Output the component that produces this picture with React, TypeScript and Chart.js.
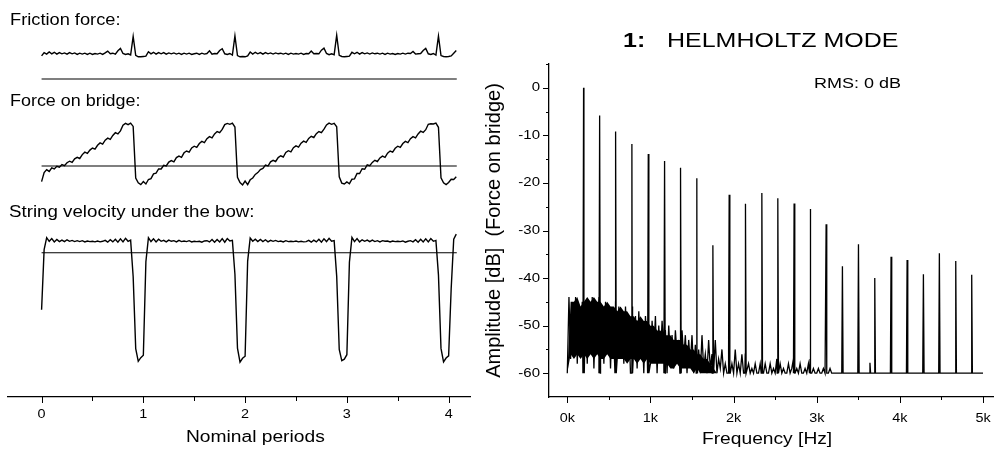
import React, { useEffect, useRef } from 'react';
import { Chart, registerables } from 'chart.js';

Chart.register(...registerables);

const FONT = '"Liberation Sans", Arial, Helvetica, sans-serif';

// ---------------- Left panel: waveforms over nominal periods ----------------
const periodStep = 0.025; // sampling interval of the waveforms (in periods)
const periodRange = [-0.33, 4.21];
const zeroLineSpan = [0, 4.08];
const periodTicksMajor = [0, 1, 2, 3, 4];
const periodTicksMinor = [0.5, 1.5, 2.5, 3.5];
const periodTickLabels = ['0', '1', '2', '3', '4'];

const frictionForce = [
  0.77, 0.88, 0.83, 0.90, 0.84, 0.89, 0.83, 0.88, 0.84, 0.87, 0.83, 0.88, 0.84, 0.87, 0.82, 0.86, 0.83, 0.86, 0.82, 0.86,
  0.82, 0.85, 0.83, 0.86, 0.82, 0.87, 0.93, 0.84, 0.86, 0.83, 0.94, 1.02, 0.85, 0.82, 0.84, 0.80, 1.42, 0.79, 0.74, 0.74,
  0.75, 0.76, 0.91, 0.84, 0.89, 0.83, 0.88, 0.84, 0.88, 0.83, 0.87, 0.84, 0.87, 0.83, 0.86, 0.82, 0.86, 0.83, 0.86, 0.82,
  0.84, 0.86, 0.82, 0.86, 0.83, 0.85, 0.94, 0.83, 0.85, 0.84, 0.95, 1.01, 0.84, 0.82, 0.85, 0.80, 1.44, 0.78, 0.74, 0.75,
  0.74, 0.77, 0.90, 0.83, 0.89, 0.84, 0.88, 0.83, 0.88, 0.84, 0.87, 0.83, 0.87, 0.84, 0.86, 0.83, 0.86, 0.82, 0.86, 0.83,
  0.85, 0.83, 0.86, 0.82, 0.85, 0.84, 0.93, 0.84, 0.85, 0.84, 0.96, 1.03, 0.85, 0.81, 0.84, 0.81, 1.46, 0.79, 0.75, 0.74,
  0.75, 0.76, 0.89, 0.84, 0.89, 0.83, 0.88, 0.84, 0.87, 0.83, 0.87, 0.84, 0.86, 0.83, 0.86, 0.82, 0.86, 0.83, 0.85, 0.82,
  0.85, 0.83, 0.86, 0.83, 0.86, 0.85, 0.92, 0.83, 0.84, 0.85, 0.95, 1.02, 0.84, 0.82, 0.85, 0.80, 1.43, 0.78, 0.75, 0.74,
  0.75, 0.77, 0.86, 0.95,
];

const bridgeForce = [
  -0.52, -0.22, -0.12, -0.18, -0.06, -0.10, -0.01, -0.04, 0.05, 0.01, 0.11, 0.16, 0.12, 0.24, 0.29, 0.25, 0.38, 0.46, 0.42, 0.53,
  0.60, 0.56, 0.69, 0.77, 0.73, 0.86, 0.93, 0.89, 1.02, 1.11, 1.07, 1.17, 1.36, 1.42, 1.38, 1.43, 1.32, -0.40, -0.56, -0.62,
  -0.52, -0.60, -0.45, -0.42, -0.26, -0.24, -0.10, -0.10, 0.02, 0.00, 0.13, 0.18, 0.14, 0.28, 0.33, 0.29, 0.44, 0.50, 0.46, 0.60,
  0.66, 0.62, 0.75, 0.82, 0.78, 0.91, 0.98, 0.94, 1.07, 1.15, 1.11, 1.22, 1.38, 1.42, 1.39, 1.43, 1.30, -0.38, -0.55, -0.63,
  -0.50, -0.62, -0.46, -0.40, -0.28, -0.22, -0.12, -0.08, 0.03, 0.00, 0.14, 0.19, 0.15, 0.28, 0.34, 0.30, 0.45, 0.51, 0.47, 0.61,
  0.67, 0.63, 0.76, 0.83, 0.79, 0.92, 0.99, 0.95, 1.08, 1.15, 1.11, 1.23, 1.37, 1.43, 1.39, 1.42, 1.31, -0.36, -0.57, -0.60,
  -0.53, -0.59, -0.44, -0.43, -0.25, -0.25, -0.09, -0.11, 0.04, 0.01, 0.12, 0.19, 0.15, 0.27, 0.33, 0.29, 0.43, 0.50, 0.46, 0.59,
  0.66, 0.62, 0.75, 0.82, 0.78, 0.91, 0.98, 0.94, 1.07, 1.16, 1.12, 1.21, 1.39, 1.41, 1.40, 1.43, 1.29, -0.39, -0.56, -0.62,
  -0.55, -0.44, -0.45, -0.36,
];

const stringVelocity = [
  -1.90, 0.10, 0.50, 0.38, 0.47, 0.36, 0.44, 0.37, 0.42, 0.37, 0.43, 0.38, 0.41, 0.37, 0.40, 0.37, 0.40, 0.36, 0.39, 0.37,
  0.38, 0.36, 0.39, 0.36, 0.38, 0.41, 0.35, 0.43, 0.36, 0.45, 0.35, 0.46, 0.36, 0.48, 0.38, 0.42, -0.80, -3.20, -3.62, -3.50,
  -3.42, -0.30, 0.50, 0.37, 0.46, 0.36, 0.45, 0.38, 0.41, 0.36, 0.42, 0.38, 0.40, 0.36, 0.41, 0.37, 0.39, 0.37, 0.40, 0.36,
  0.38, 0.37, 0.38, 0.35, 0.39, 0.40, 0.36, 0.44, 0.35, 0.44, 0.36, 0.47, 0.35, 0.47, 0.39, 0.41, -0.72, -3.18, -3.65, -3.52,
  -3.45, -0.28, 0.49, 0.38, 0.45, 0.37, 0.44, 0.37, 0.43, 0.36, 0.41, 0.38, 0.41, 0.37, 0.39, 0.36, 0.40, 0.37, 0.38, 0.37,
  0.39, 0.36, 0.38, 0.36, 0.37, 0.41, 0.35, 0.42, 0.36, 0.45, 0.35, 0.46, 0.37, 0.48, 0.38, 0.40, -0.78, -3.22, -3.60, -3.55,
  -3.40, -0.32, 0.51, 0.37, 0.47, 0.36, 0.43, 0.38, 0.42, 0.37, 0.42, 0.37, 0.40, 0.36, 0.40, 0.38, 0.39, 0.36, 0.39, 0.37,
  0.38, 0.37, 0.39, 0.35, 0.38, 0.40, 0.36, 0.43, 0.35, 0.45, 0.36, 0.46, 0.36, 0.47, 0.38, 0.41, -0.74, -3.19, -3.64, -3.51,
  -3.44, -1.20, 0.45, 0.62,
];

// ---------------- Right panel: spectrum ----------------
const freqRange = [-220, 5120];
const dbRange = [-65, 5];
const floorDb = -60;
const spectrumEndHz = 5000;
const noiseStepHz = 20; // bin spacing of the noise floor samples
const noiseDb = [
  -60, -44, -57, -46, -55, -44, -58, -47, -53, -45, -50, -46, -58, -47, -55, -44, -59, -48, -54, -44,
  -56, -47, -58, -45, -55, -46, -59, -48, -53, -45, -57, -46, -56, -48, -58, -46, -55, -49, -60, -46,
  -54, -48, -59, -47, -56, -49, -60, -48, -55, -47, -58, -49, -56, -48, -60, -50, -57, -49, -55, -51,
  -60, -50, -57, -52, -59, -51, -56, -53, -60, -51, -57, -52, -60, -53, -58, -52, -60, -54, -57, -55,
  -60, -52, -59, -56, -60, -53, -59, -56, -60, -53, -60, -57, -59, -55, -60, -58, -60, -55, -60, -58,
  -60, -55, -60, -58, -60, -56, -60, -56, -60, -58, -60, -59, -60, -58, -60, -60, -58, -57, -60, -58,
  -60, -60, -58, -60, -59, -60, -57, -60, -58, -60, -59, -60, -60, -58, -60, -59, -57, -60, -59, -60,
  -58, -60, -60, -59, -60, -58, -57, -60, -59, -60, -60, -59, -60, -60, -59, -60, -58, -60, -59, -60,
  -60, -60, -60,
];
// dense core of the noise floor (filled band), sampled every 40 Hz
const bandStepHz = 40;
const noiseBandUpperDb = [
  -60, -45, -45, -44, -46, -45, -44, -45, -44, -45, -45, -46, -45, -46, -46, -47, -46, -47, -47, -48,
  -48, -49, -48, -49, -49, -50, -50, -51, -51, -52, -52, -52, -53, -53, -53, -54, -54, -55, -55, -56,
  -56, -57, -57, -58, -59, -60,
];
const noiseBandLowerDb = [
  -60, -56, -57, -56, -57, -56, -57, -56, -57, -56, -57, -57, -56, -57, -57, -57, -57, -57, -58, -57,
  -57, -58, -57, -58, -57, -58, -58, -58, -58, -58, -58, -59, -59, -58, -59, -59, -59, -59, -60, -59,
  -60, -60, -60, -60, -60, -60,
];
const harmonicHz = [
  196, 389, 581, 777, 974, 1170, 1362, 1558, 1751, 1947, 2143, 2340, 2532,
  2728, 2921, 3113, 3309, 3502, 3698, 3894, 4087, 4283, 4475, 4672, 4864,
];
const harmonicDb = [
  0, -5.8, -9.2, -11.8, -13.9, -15.4, -16.8, -19.0, -33.1, -22.5, -24.4, -22.1, -23.2,
  -24.3, -25.5, -28.7, -37.5, -32.9, -40.0, -35.5, -36.2, -39.2, -34.8, -36.4, -39.3,
];
const lateNoiseHz = [3640];
const lateNoiseDb = [-57.8];
const freqTicksMajor = [0, 1000, 2000, 3000, 4000, 5000];
const freqTicksMinor = [500, 1500, 2500, 3500, 4500];
const freqTickLabels = ['0k', '1k', '2k', '3k', '4k', '5k'];
const dbTicksMajor = [-60, -50, -40, -30, -20, -10, 0];
const dbTicksMinor = [-55, -45, -35, -25, -15, -5, 5];
const dbTickLabels = ['-60', '-50', '-40', '-30', '-20', '-10', '0'];

// ---------------- helpers ----------------
type AxisDeco = {
  scaleId: string;
  side: 'bottom' | 'left';
  major: number[];
  minor: number[];
  majorLen: number;
  minorLen: number;
  labels: string[] | null;
  labelGap: number;
  fontSize: number;
  stretch: number;
};

function axisDecoPlugin(axes: AxisDeco[]) {
  return {
    id: 'axisDeco',
    afterDraw(chart: any) {
      const ctx = chart.ctx as CanvasRenderingContext2D;
      ctx.save();
      ctx.strokeStyle = '#000';
      ctx.fillStyle = '#000';
      ctx.lineWidth = 1;
      for (const a of axes) {
        const s = chart.scales[a.scaleId];
        const edge = a.side === 'bottom' ? s.top : s.right;
        const mark = (v: number, len: number) => {
          const p = Math.round(s.getPixelForValue(v)) + 0.5;
          ctx.beginPath();
          if (a.side === 'bottom') {
            ctx.moveTo(p, edge);
            ctx.lineTo(p, edge + len);
          } else {
            ctx.moveTo(edge, p);
            ctx.lineTo(edge - len, p);
          }
          ctx.stroke();
        };
        a.major.forEach((v) => mark(v, a.majorLen));
        a.minor.forEach((v) => mark(v, a.minorLen));
        if (a.labels) {
          ctx.font = `${a.fontSize}px ${FONT}`;
          a.major.forEach((v, i) => {
            const p = s.getPixelForValue(v);
            ctx.save();
            if (a.side === 'bottom') {
              ctx.translate(p, edge + a.labelGap);
              ctx.textAlign = 'center';
              ctx.textBaseline = 'alphabetic';
            } else {
              ctx.translate(edge - a.labelGap, p);
              ctx.textAlign = 'right';
              ctx.textBaseline = 'middle';
            }
            ctx.scale(a.stretch, 1);
            ctx.fillText(a.labels![i], 0, 0);
            ctx.restore();
          });
        }
      }
      ctx.restore();
    },
  };
}

function waveData(values: number[]) {
  return values.map((v, i) => ({ x: i * periodStep, y: v }));
}

function zeroLine() {
  return zeroLineSpan.map((x) => ({ x, y: 0 }));
}

function spectrumData() {
  const pts: { x: number; y: number }[] = noiseDb.map((v, i) => ({ x: i * noiseStepHz, y: v }));
  harmonicHz.forEach((f, i) => {
    pts.push({ x: f - 8, y: floorDb }, { x: f, y: harmonicDb[i] }, { x: f + 8, y: floorDb });
  });
  lateNoiseHz.forEach((f, i) => {
    pts.push({ x: f - 8, y: floorDb }, { x: f, y: lateNoiseDb[i] }, { x: f + 8, y: floorDb });
  });
  pts.push({ x: spectrumEndHz, y: floorDb });
  pts.sort((a, b) => a.x - b.x);
  return pts;
}

function bandData(values: number[]) {
  return values.map((v, i) => ({ x: i * bandStepHz, y: v }));
}

function lineDs(data: { x: number; y: number }[], width: number) {
  return {
    data,
    borderColor: '#000',
    borderWidth: width,
    pointRadius: 0,
    fill: false,
    tension: 0,
  };
}

function waveConfig(values: number[], yMin: number, yMax: number, padTop: number, padBottom: number, withAxis: boolean) {
  const xScale: any = {
    type: 'linear',
    min: periodRange[0],
    max: periodRange[1],
    display: withAxis,
    grid: { display: false },
    border: { display: true, color: '#000', width: 1.3 },
    ticks: { display: false },
  };
  if (withAxis) {
    xScale.afterFit = (s: any) => {
      s.height = 55;
    };
  }
  return {
    type: 'line',
    data: { datasets: [lineDs(waveData(values), 1.4), lineDs(zeroLine(), 1.1)] },
    options: {
      responsive: false,
      animation: false,
      layout: { padding: { left: 8, right: 8, top: padTop, bottom: padBottom } },
      plugins: { legend: { display: false }, tooltip: { enabled: false }, title: { display: false } },
      scales: {
        x: xScale,
        y: { type: 'linear', min: yMin, max: yMax, display: false },
      },
    },
    plugins: withAxis
      ? [
          axisDecoPlugin([
            {
              scaleId: 'x',
              side: 'bottom',
              major: periodTicksMajor,
              minor: periodTicksMinor,
              majorLen: 6,
              minorLen: 4,
              labels: periodTickLabels,
              labelGap: 21,
              fontSize: 12,
              stretch: 1.2,
            },
          ]),
        ]
      : [],
  };
}

function spectrumConfig() {
  return {
    type: 'line',
    data: {
      datasets: [
        { data: bandData(noiseBandLowerDb), borderWidth: 0, pointRadius: 0, fill: false, tension: 0, borderColor: 'rgba(0,0,0,0)' },
        {
          data: bandData(noiseBandUpperDb),
          borderWidth: 0,
          pointRadius: 0,
          tension: 0,
          borderColor: 'rgba(0,0,0,0)',
          fill: '-1',
          backgroundColor: '#000',
        },
        lineDs(spectrumData(), 1.3),
      ],
    },
    options: {
      responsive: false,
      animation: false,
      layout: { padding: { left: 0, right: 1, top: 64, bottom: 0 } },
      plugins: { legend: { display: false }, tooltip: { enabled: false }, title: { display: false } },
      scales: {
        x: {
          type: 'linear',
          min: freqRange[0],
          max: freqRange[1],
          grid: { display: false },
          border: { display: true, color: '#000', width: 1.3 },
          ticks: { display: false },
          afterFit: (s: any) => {
            s.height = 55;
          },
        },
        y: {
          type: 'linear',
          min: dbRange[0],
          max: dbRange[1],
          grid: { display: false },
          border: { display: true, color: '#000', width: 1.3 },
          ticks: { display: false },
          title: {
            display: true,
            text: 'Amplitude [dB]  (Force on bridge)',
            color: '#000',
            font: { family: FONT, size: 20 },
            padding: { top: 4, bottom: 0 },
          },
          afterFit: (s: any) => {
            s.width = 71;
          },
        },
      },
    },
    plugins: [
      axisDecoPlugin([
        {
          scaleId: 'x',
          side: 'bottom',
          major: freqTicksMajor,
          minor: freqTicksMinor,
          majorLen: 6,
          minorLen: 3,
          labels: freqTickLabels,
          labelGap: 25,
          fontSize: 12,
          stretch: 1.2,
        },
        {
          scaleId: 'y',
          side: 'left',
          major: dbTicksMajor,
          minor: dbTicksMinor,
          majorLen: 6,
          minorLen: 3,
          labels: dbTickLabels,
          labelGap: 9,
          fontSize: 12.5,
          stretch: 1.2,
        },
      ]),
    ],
  };
}

function ChartBox({ left, top, width, height, make }: { left: number; top: number; width: number; height: number; make: () => any }) {
  const ref = useRef<HTMLCanvasElement | null>(null);
  useEffect(() => {
    if (!ref.current) return;
    const chart = new Chart(ref.current, make());
    return () => chart.destroy();
  }, []);
  return (
    <div style={{ position: 'absolute', left, top, width, height }}>
      <canvas ref={ref} width={width} height={height} style={{ display: 'block', width, height }} />
    </div>
  );
}

function Label({ text, left, top, size, stretch, bold }: { text: string; left: number; top: number; size: number; stretch: number; bold?: boolean }) {
  return (
    <div
      style={{
        position: 'absolute',
        left,
        top,
        fontFamily: FONT,
        fontSize: size,
        lineHeight: `${size}px`,
        fontWeight: bold ? 700 : 400,
        color: '#000',
        whiteSpace: 'pre',
        transform: `scaleX(${stretch})`,
        transformOrigin: '0 0',
      }}
    >
      {text}
    </div>
  );
}

export default function App() {
  return (
    <div style={{ position: 'fixed', left: 0, top: 0, width: 994, height: 452, background: '#fff', overflow: 'hidden' }}>
      <ChartBox left={0} top={0} width={478} height={90} make={() => waveConfig(frictionForce, -0.3, 1.7, 28, 2, false)} />
      <ChartBox left={0} top={90} width={478} height={105} make={() => waveConfig(bridgeForce, -0.8667, 1.8667, 20, 3, false)} />
      <ChartBox left={0} top={195} width={478} height={257} make={() => waveConfig(stringVelocity, -4.81, 0.923, 30, 0, true)} />
      <ChartBox left={478} top={0} width={516} height={452} make={spectrumConfig} />

      <Label text="Friction force:" left={10.3} top={11.5} size={16} stretch={1.14} />
      <Label text="Force on bridge:" left={10.3} top={93.2} size={16} stretch={1.12} />
      <Label text="String velocity under the bow:" left={9} top={203.8} size={16} stretch={1.17} />
      <Label text="Nominal periods" left={185.5} top={428.5} size={16} stretch={1.2} />

      <Label text="1:" left={623.3} top={28.9} size={21} stretch={1.19} bold />
      <Label text="HELMHOLTZ MODE" left={667.4} top={28.9} size={21} stretch={1.19} />
      <Label text="RMS: 0 dB" left={813.6} top={74.6} size={15} stretch={1.2} />
      <Label text="Frequency [Hz]" left={702} top={430.5} size={16} stretch={1.2} />
    </div>
  );
}
